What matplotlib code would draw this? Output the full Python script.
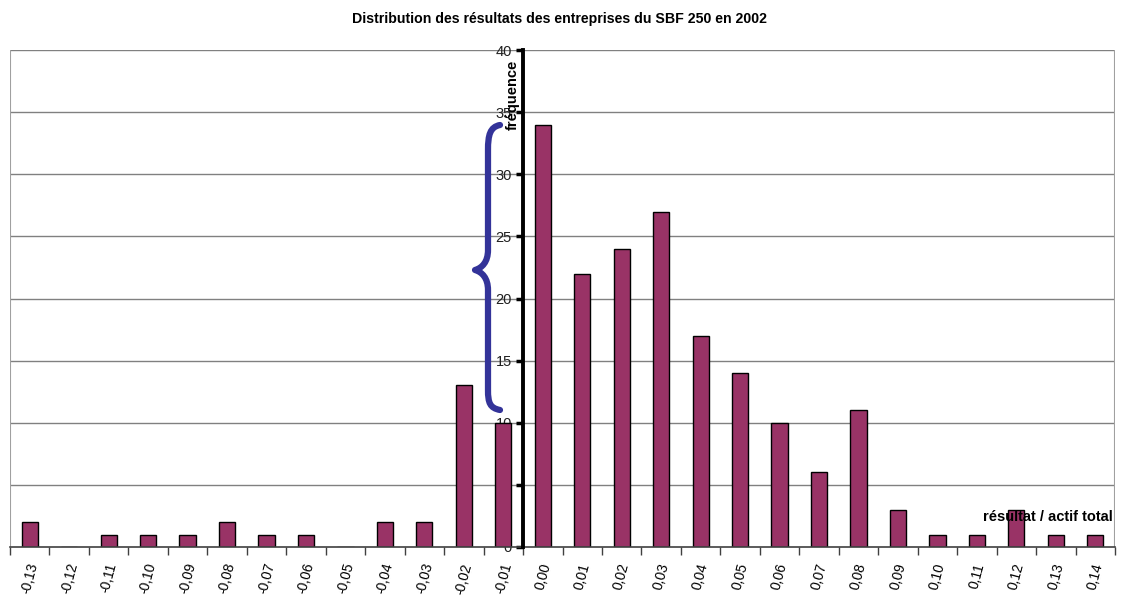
import matplotlib
matplotlib.use("Agg")
import matplotlib.pyplot as plt
from matplotlib.path import Path
from matplotlib.patches import PathPatch

plt.rcParams["font.family"] = ["Liberation Sans", "DejaVu Sans"]

categories = ["-0,13", "-0,12", "-0,11", "-0,10", "-0,09", "-0,08", "-0,07", "-0,06",
              "-0,05", "-0,04", "-0,03", "-0,02", "-0,01", "0,00", "0,01", "0,02",
              "0,03", "0,04", "0,05", "0,06", "0,07", "0,08", "0,09", "0,10",
              "0,11", "0,12", "0,13", "0,14"]
frequencies = [2, 0, 1, 1, 1, 2, 1, 1, 0, 2, 2, 13, 10, 34, 22, 24, 27, 17, 14, 10,
               6, 11, 3, 1, 1, 3, 1, 1]
y_ticks = [0, 5, 10, 15, 20, 25, 30, 35, 40]

W, H = 1130, 599
fig = plt.figure(figsize=(W / 100, H / 100), dpi=100)
ax = fig.add_axes([10 / W, (H - 547) / H, 1105 / W, 497 / H])

n = len(categories)
xs = list(range(n))
ax.set_xlim(-0.5, n - 0.5)
ax.set_ylim(0, 40)

for y in y_ticks[1:]:
    ax.axhline(y, color="#808080", lw=1.0, zorder=0)
ax.axvline(-0.5, color="#a0a0a0", lw=1.5, zorder=0)
ax.axvline(n - 0.5, color="#a0a0a0", lw=1.5, zorder=0)

ax.bar(xs, frequencies, width=0.41, color="#993366", edgecolor="black", linewidth=1, zorder=2)

for s in ["top", "right"]:
    ax.spines[s].set_visible(False)
ax.spines["bottom"].set_color("#404040")
ax.spines["bottom"].set_linewidth(1.2)
ax.spines["left"].set_position(("data", 12.5))
ax.spines["left"].set_linewidth(2.8)
ax.spines["left"].set_color("black")
ax.spines["left"].set_zorder(3)

ax.set_yticks(y_ticks)
ax.set_yticklabels([str(v) for v in y_ticks], fontsize=10.5, color="#202020")
ax.tick_params(axis="y", direction="out", length=5, width=2.5, pad=3)

ax.set_xticks(xs)
ax.set_xticklabels(categories, rotation=75, fontsize=10)
ax.tick_params(axis="x", which="major", length=0, pad=10.5)
ax.set_xticks([i + 0.5 for i in range(-1, n)], minor=True)
ax.tick_params(axis="x", which="minor", length=6, width=1, color="#404040", direction="out")

ax.text(12.25, 36.4, "fréquence", rotation=90, ha="center", va="center",
        fontsize=10.5, fontweight="bold", zorder=4)
ax.text(27.45, 2.4, "résultat / actif total", ha="right", va="center",
        fontsize=10.5, fontweight="bold", zorder=4)

fig.text(559 / W, 1 - 19 / H, "Distribution des résultats des entreprises du SBF 250 en 2002",
         ha="center", va="center", fontsize=10.2, fontweight="bold")

# curly brace (annotation)
def px(xp):
    return (xp - 10) / (1105 / n) - 0.5

def py(yp):
    return (547 - yp) / (497 / 40)

pts = [
    (500, 125),
    (490, 127), (488, 135), (488, 150),
    (488, 250),
    (488, 262), (482, 268), (475, 270),
    (482, 272), (488, 278), (488, 290),
    (488, 390),
    (488, 403), (490, 408), (500, 410),
]
codes = [Path.MOVETO,
         Path.CURVE4, Path.CURVE4, Path.CURVE4,
         Path.LINETO,
         Path.CURVE4, Path.CURVE4, Path.CURVE4,
         Path.CURVE4, Path.CURVE4, Path.CURVE4,
         Path.LINETO,
         Path.CURVE4, Path.CURVE4, Path.CURVE4]
verts = [(px(a), py(b)) for a, b in pts]
brace = PathPatch(Path(verts, codes), facecolor="none", edgecolor="#333399",
                  lw=4.5, capstyle="round", joinstyle="round", zorder=5)
ax.add_patch(brace)

fig.savefig("out.png", dpi=100)
